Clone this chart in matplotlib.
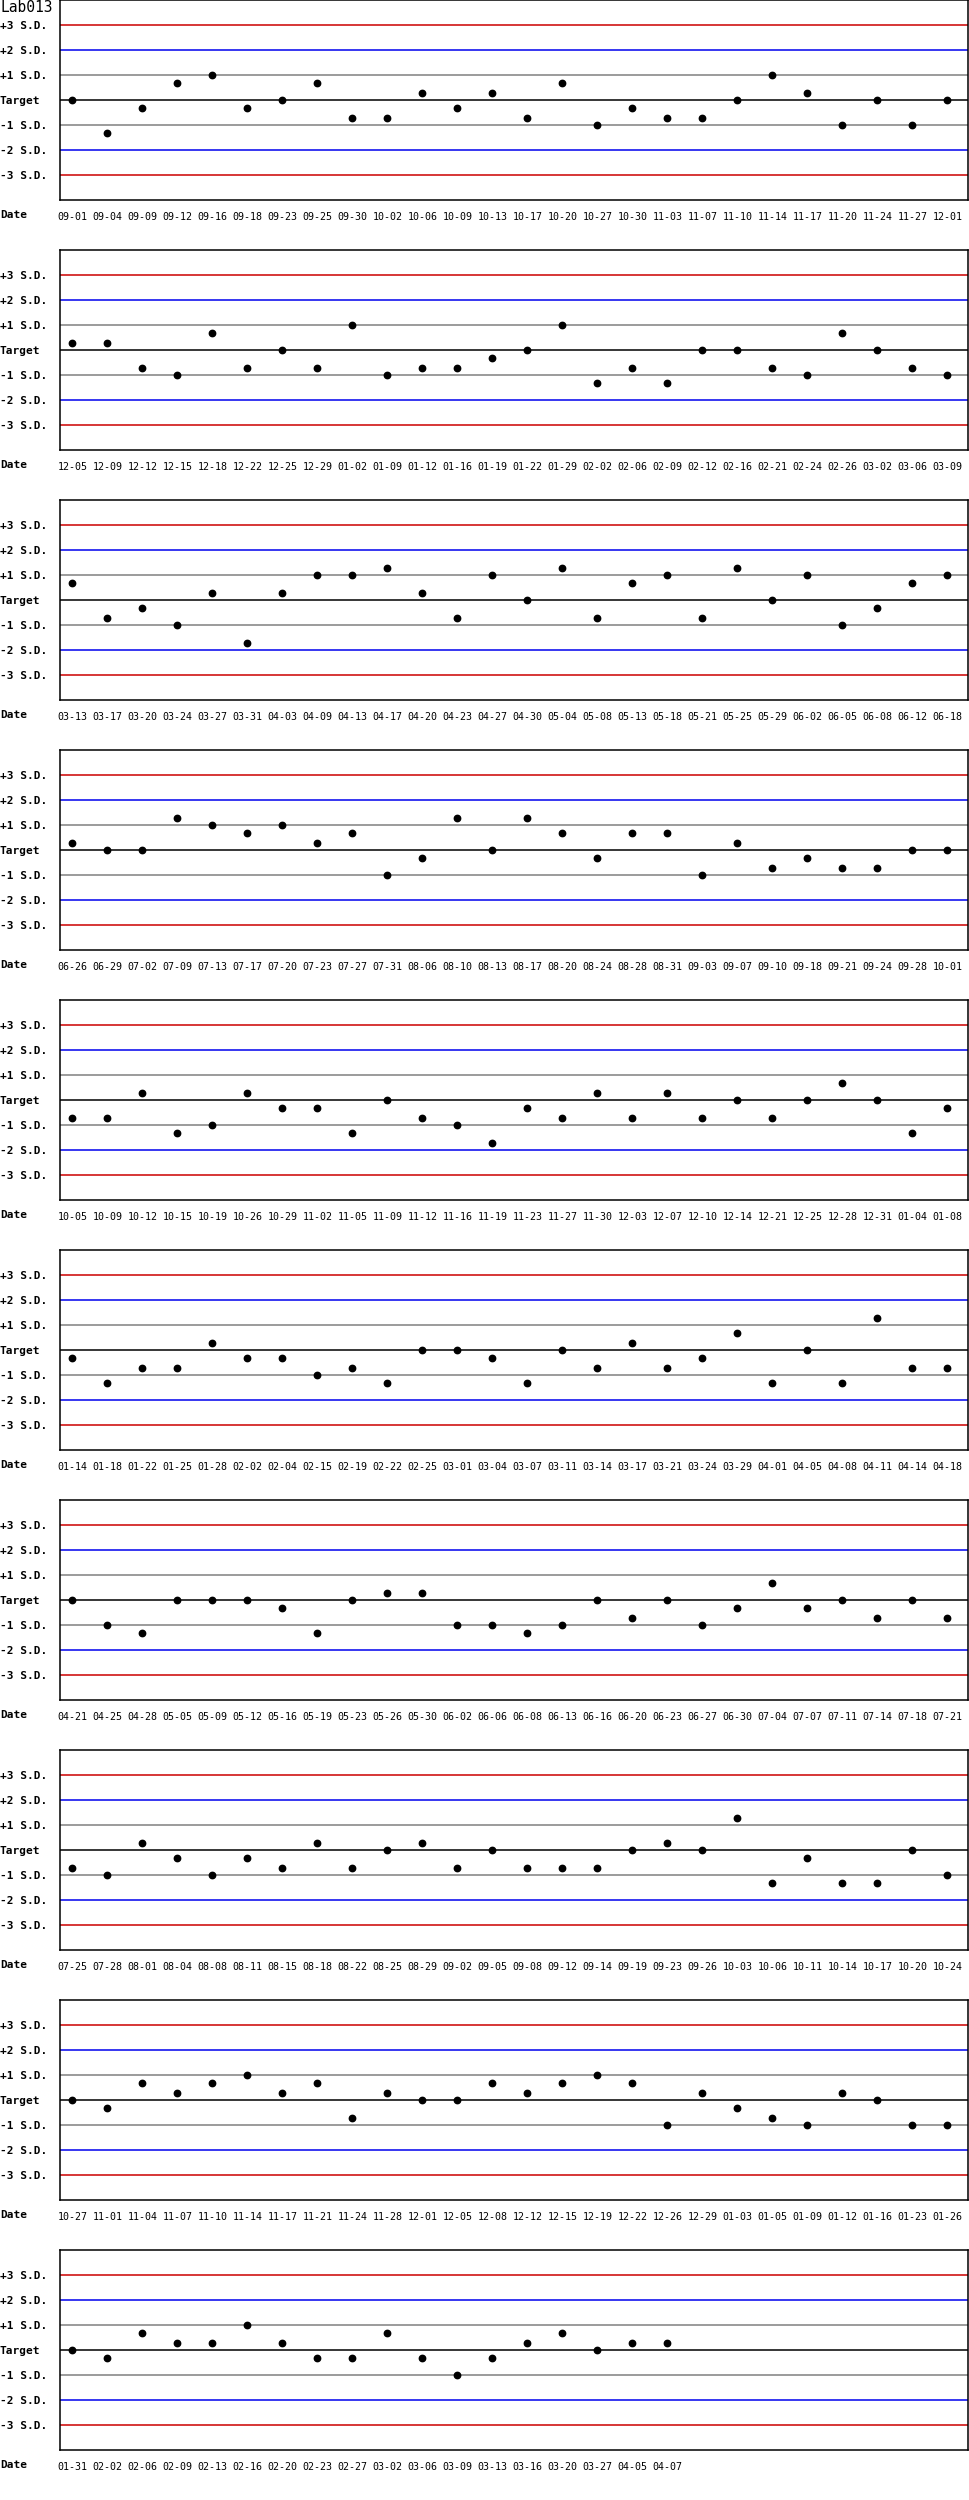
import matplotlib
matplotlib.use("Agg")
import matplotlib.pyplot as plt

# Levey-Jennings chart, Lab013, values in S.D. from target

dates_p1 = ["09-01", "09-04", "09-09", "09-12", "09-16", "09-18", "09-23", "09-25", "09-30", "10-02", "10-06", "10-09", "10-13",
            "10-17", "10-20", "10-27", "10-30", "11-03", "11-07", "11-10", "11-14", "11-17", "11-20", "11-24", "11-27", "12-01"]
sd_p1 = [0, -1.3, -0.3, 0.7, 1, -0.3, 0, 0.7, -0.7, -0.7, 0.3, -0.3, 0.3,
         -0.7, 0.7, -1, -0.3, -0.7, -0.7, 0, 1, 0.3, -1, 0, -1, 0]

dates_p2 = ["12-05", "12-09", "12-12", "12-15", "12-18", "12-22", "12-25", "12-29", "01-02", "01-09", "01-12", "01-16", "01-19",
            "01-22", "01-29", "02-02", "02-06", "02-09", "02-12", "02-16", "02-21", "02-24", "02-26", "03-02", "03-06", "03-09"]
sd_p2 = [0.3, 0.3, -0.7, -1, 0.7, -0.7, 0, -0.7, 1, -1, -0.7, -0.7, -0.3,
         0, 1, -1.3, -0.7, -1.3, 0, 0, -0.7, -1, 0.7, 0, -0.7, -1]

dates_p3 = ["03-13", "03-17", "03-20", "03-24", "03-27", "03-31", "04-03", "04-09", "04-13", "04-17", "04-20", "04-23", "04-27",
            "04-30", "05-04", "05-08", "05-13", "05-18", "05-21", "05-25", "05-29", "06-02", "06-05", "06-08", "06-12", "06-18"]
sd_p3 = [0.7, -0.7, -0.3, -1, 0.3, -1.7, 0.3, 1, 1, 1.3, 0.3, -0.7, 1,
         0, 1.3, -0.7, 0.7, 1, -0.7, 1.3, 0, 1, -1, -0.3, 0.7, 1]

dates_p4 = ["06-26", "06-29", "07-02", "07-09", "07-13", "07-17", "07-20", "07-23", "07-27", "07-31", "08-06", "08-10", "08-13",
            "08-17", "08-20", "08-24", "08-28", "08-31", "09-03", "09-07", "09-10", "09-18", "09-21", "09-24", "09-28", "10-01"]
sd_p4 = [0.3, 0, 0, 1.3, 1, 0.7, 1, 0.3, 0.7, -1, -0.3, 1.3, 0,
         1.3, 0.7, -0.3, 0.7, 0.7, -1, 0.3, -0.7, -0.3, -0.7, -0.7, 0, 0]

dates_p5 = ["10-05", "10-09", "10-12", "10-15", "10-19", "10-26", "10-29", "11-02", "11-05", "11-09", "11-12", "11-16", "11-19",
            "11-23", "11-27", "11-30", "12-03", "12-07", "12-10", "12-14", "12-21", "12-25", "12-28", "12-31", "01-04", "01-08"]
sd_p5 = [-0.7, -0.7, 0.3, -1.3, -1, 0.3, -0.3, -0.3, -1.3, 0, -0.7, -1, -1.7,
         -0.3, -0.7, 0.3, -0.7, 0.3, -0.7, 0, -0.7, 0, 0.7, 0, -1.3, -0.3]

dates_p6 = ["01-14", "01-18", "01-22", "01-25", "01-28", "02-02", "02-04", "02-15", "02-19", "02-22", "02-25", "03-01", "03-04",
            "03-07", "03-11", "03-14", "03-17", "03-21", "03-24", "03-29", "04-01", "04-05", "04-08", "04-11", "04-14", "04-18"]
sd_p6 = [-0.3, -1.3, -0.7, -0.7, 0.3, -0.3, -0.3, -1, -0.7, -1.3, 0, 0, -0.3,
         -1.3, 0, -0.7, 0.3, -0.7, -0.3, 0.7, -1.3, 0, -1.3, 1.3, -0.7, -0.7]

dates_p7 = ["04-21", "04-25", "04-28", "05-05", "05-09", "05-12", "05-16", "05-19", "05-23", "05-26", "05-30", "06-02", "06-06",
            "06-08", "06-13", "06-16", "06-20", "06-23", "06-27", "06-30", "07-04", "07-07", "07-11", "07-14", "07-18", "07-21"]
sd_p7 = [0, -1, -1.3, 0, 0, 0, -0.3, -1.3, 0, 0.3, 0.3, -1, -1,
         -1.3, -1, 0, -0.7, 0, -1, -0.3, 0.7, -0.3, 0, -0.7, 0, -0.7]

dates_p8 = ["07-25", "07-28", "08-01", "08-04", "08-08", "08-11", "08-15", "08-18", "08-22", "08-25", "08-29", "09-02", "09-05",
            "09-08", "09-12", "09-14", "09-19", "09-23", "09-26", "10-03", "10-06", "10-11", "10-14", "10-17", "10-20", "10-24"]
sd_p8 = [-0.7, -1, 0.3, -0.3, -1, -0.3, -0.7, 0.3, -0.7, 0, 0.3, -0.7, 0,
         -0.7, -0.7, -0.7, 0, 0.3, 0, 1.3, -1.3, -0.3, -1.3, -1.3, 0, -1]

dates_p9 = ["10-27", "11-01", "11-04", "11-07", "11-10", "11-14", "11-17", "11-21", "11-24", "11-28", "12-01", "12-05", "12-08",
            "12-12", "12-15", "12-19", "12-22", "12-26", "12-29", "01-03", "01-05", "01-09", "01-12", "01-16", "01-23", "01-26"]
sd_p9 = [0, -0.3, 0.7, 0.3, 0.7, 1, 0.3, 0.7, -0.7, 0.3, 0, 0, 0.7,
         0.3, 0.7, 1, 0.7, -1, 0.3, -0.3, -0.7, -1, 0.3, 0, -1, -1]

dates_p10 = ["01-31", "02-02", "02-06", "02-09", "02-13", "02-16", "02-20", "02-23", "02-27",
             "03-02", "03-06", "03-09", "03-13", "03-16", "03-20", "03-27", "04-05", "04-07"]
sd_p10 = [0, -0.3, 0.7, 0.3, 0.3, 1, 0.3, -0.3, -0.3,
          0.7, -0.3, -1, -0.3, 0.3, 0.7, 0, 0.3, 0.3]

panels = [(dates_p1, sd_p1), (dates_p2, sd_p2), (dates_p3, sd_p3), (dates_p4, sd_p4), (dates_p5, sd_p5),
          (dates_p6, sd_p6), (dates_p7, sd_p7), (dates_p8, sd_p8), (dates_p9, sd_p9), (dates_p10, sd_p10)]

sd_levels = [3, 2, 1, 0, -1, -2, -3]
sd_labels = ["+3 S.D.", "+2 S.D.", "+1 S.D.", "Target", "-1 S.D.", "-2 S.D.", "-3 S.D."]
sd_colors = ["#cc0000", "#0000ee", "#808080", "#000000", "#808080", "#0000ee", "#cc0000"]

# pixel layout
W, H = 970, 2500
box_l, box_r = 60, 968
panel_h, box_h = 250, 200
x0, step = 72.3, 35.0

mono = "DejaVu Sans Mono"
fig = plt.figure(figsize=(W / 100, H / 100), dpi=100)

for i, (dates, vals) in enumerate(panels):
    top = i * panel_h
    ax = fig.add_axes([box_l / W, 1 - (top + box_h) / H, (box_r - box_l) / W, box_h / H])
    for lvl, col in zip(sd_levels, sd_colors):
        ax.axhline(lvl, color=col, lw=1.1, zorder=1)
    ax.plot(range(len(vals)), vals, "o", color="black", ms=4.6, zorder=3)

    ax.set_xlim(-(x0 - box_l) / step, (box_r - x0) / step)
    ax.set_ylim(-4, 4)

    ax.set_xticks(range(len(dates)), dates)
    ax.tick_params(axis="x", length=0, pad=9, labelsize=7.2)
    for lab in ax.get_xticklabels():
        lab.set_family(mono)

    ax.set_yticks(sd_levels, sd_labels)
    ax.tick_params(axis="y", length=0, pad=box_l * 0.72)
    for lab in ax.get_yticklabels():
        lab.set_family(mono)
        lab.set_fontweight("bold")
        lab.set_fontsize(8)
        lab.set_horizontalalignment("left")

    for sp in ax.spines.values():
        sp.set_linewidth(1.1)
        sp.set_color("black")

    ax.text(-box_l / (box_r - box_l), -15 / box_h, "Date", transform=ax.transAxes,
            ha="left", va="center", family=mono, fontweight="bold", fontsize=8)

    if i == 0:
        ax.text(-box_l / (box_r - box_l), 1 - 8 / box_h, "Lab013", transform=ax.transAxes,
                ha="left", va="center", family=mono, fontsize=10.5)

fig.savefig("out.png", dpi=100)
